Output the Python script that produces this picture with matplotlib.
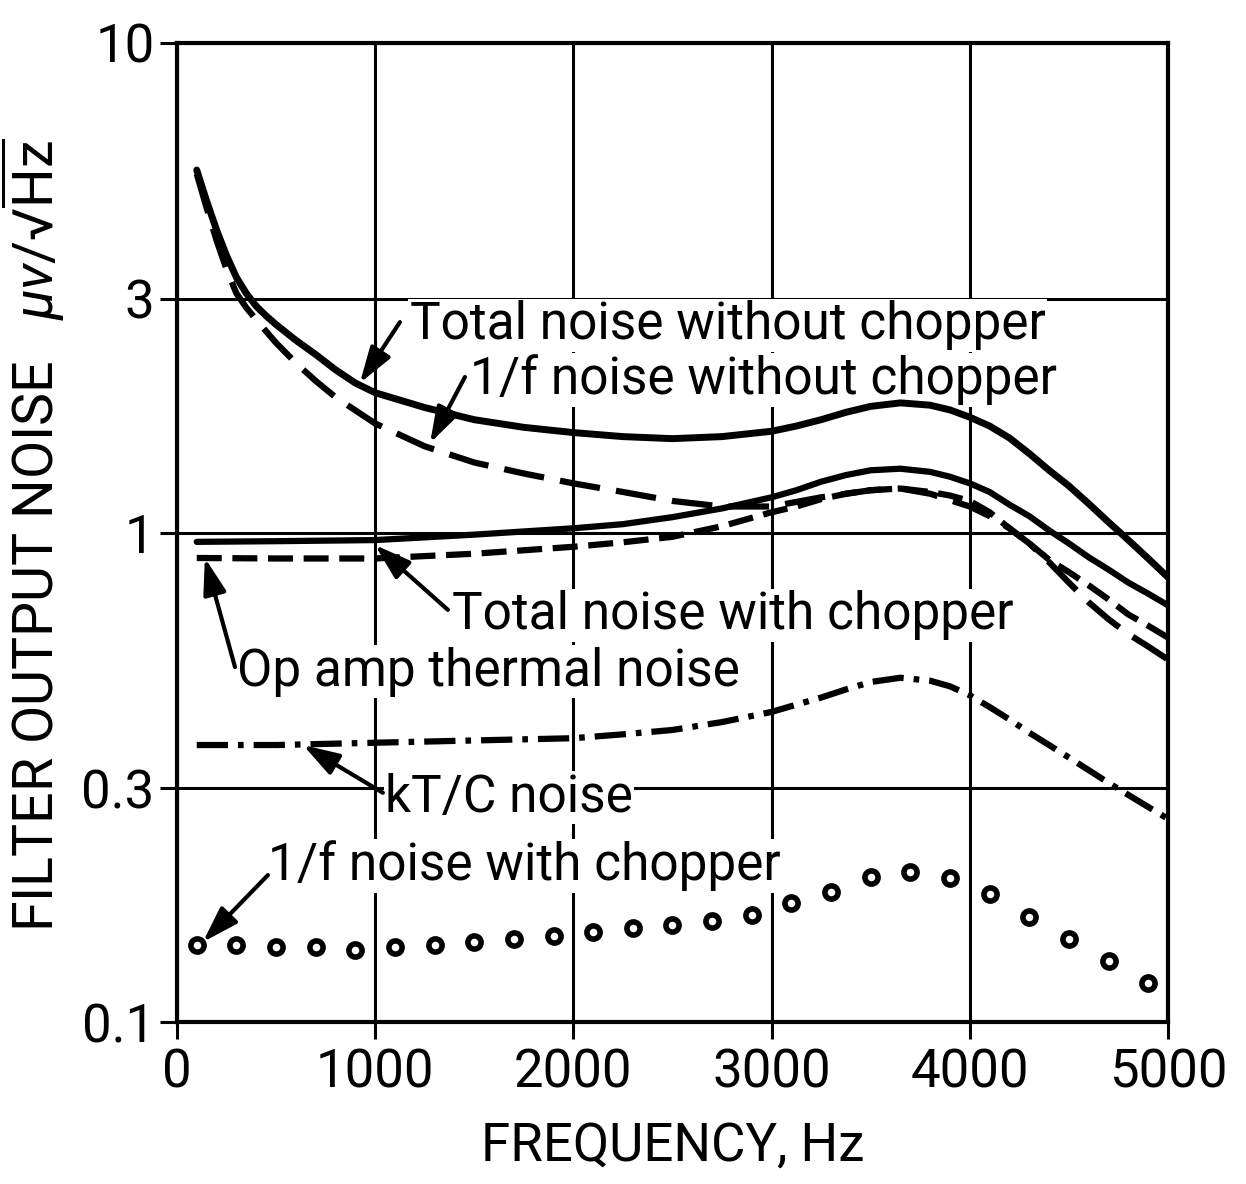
import matplotlib
matplotlib.use('Agg')
import matplotlib.pyplot as plt

plt.rcParams['font.family'] = ['Roboto', 'DejaVu Sans']
plt.rcParams['mathtext.fontset'] = 'custom'
plt.rcParams['mathtext.rm'] = 'Roboto'
plt.rcParams['mathtext.it'] = 'Roboto:italic'
plt.rcParams['mathtext.bf'] = 'Roboto:bold'

# --- data ---
freq_total_nc = [100, 150, 200, 250, 300, 350, 400, 450, 500, 600, 700, 800, 900, 1000, 1250, 1500,
                 1750, 2000, 2250, 2500, 2750, 3000, 3125, 3250, 3375, 3500, 3650, 3800, 3900,
                 4000, 4100, 4200, 4300, 4400, 4500, 4600, 4700, 4800, 4900, 5000]
total_no_chopper = [5.5, 4.75, 4.15, 3.68, 3.32, 3.08, 2.9, 2.77, 2.66, 2.47, 2.31, 2.15, 2.02, 1.93,
                    1.80, 1.70, 1.64, 1.60, 1.57, 1.555, 1.57, 1.61, 1.65, 1.70, 1.76, 1.81, 1.84,
                    1.82, 1.78, 1.72, 1.65, 1.56, 1.45, 1.34, 1.245, 1.145, 1.05, 0.965, 0.885, 0.81]

freq_flicker_nc = [100, 150, 200, 250, 300, 350, 400, 500, 600, 700, 800, 1000, 1250, 1500, 1750,
                   2000, 2250, 2500, 2750, 3000, 3250, 3500, 3650, 3800, 4000, 4100, 4200, 4300,
                   4400, 4500, 4600, 4700, 4800, 4900, 5000]
flicker_no_chopper = [5.4, 4.6, 3.95, 3.45, 3.08, 2.88, 2.72, 2.44, 2.22, 2.04, 1.89, 1.67, 1.50,
                      1.39, 1.32, 1.26, 1.21, 1.16, 1.13, 1.13, 1.18, 1.22, 1.23, 1.20, 1.13, 1.08,
                      1.02, 0.95, 0.87, 0.79, 0.72, 0.665, 0.62, 0.585, 0.55]

freq_mid = [100, 500, 1000, 1500, 2000, 2250, 2500, 2750, 3000, 3125, 3250, 3375, 3500, 3650,
            3800, 3900, 4000, 4100, 4200, 4300, 4400, 4500, 4600, 4700, 4800, 4900, 5000]
total_chopper = [0.957, 0.96, 0.965, 0.99, 1.02, 1.04, 1.075, 1.12, 1.18, 1.22, 1.27, 1.31, 1.34,
                 1.35, 1.33, 1.30, 1.26, 1.21, 1.14, 1.08, 1.01, 0.95, 0.89, 0.84, 0.79, 0.75, 0.71]
opamp_thermal = [0.887, 0.885, 0.885, 0.905, 0.935, 0.955, 0.98, 1.03, 1.10, 1.13, 1.17, 1.20, 1.22,
                 1.23, 1.21, 1.19, 1.16, 1.10, 1.02, 0.95, 0.88, 0.83, 0.78, 0.73, 0.68, 0.645, 0.61]
ktc_noise = [0.368, 0.368, 0.372, 0.376, 0.38, 0.387, 0.395, 0.41, 0.43, 0.445, 0.46, 0.478, 0.495,
             0.505, 0.498, 0.485, 0.465, 0.44, 0.415, 0.39, 0.368, 0.347, 0.327, 0.308, 0.291,
             0.275, 0.26]

freq_dots = [100, 300, 500, 700, 900, 1100, 1300, 1500, 1700, 1900, 2100, 2300, 2500,
             2700, 2900, 3100, 3300, 3500, 3700, 3900, 4100, 4300, 4500, 4700, 4900]
flicker_chopper = [0.1436, 0.1436, 0.1423, 0.1423, 0.1403, 0.1423, 0.1436, 0.1457, 0.1478, 0.1499,
                   0.153, 0.1556, 0.158, 0.161, 0.1654, 0.175, 0.184, 0.198, 0.2025, 0.197,
                   0.183, 0.164, 0.148, 0.133, 0.120]

x_ticks = [0, 1000, 2000, 3000, 4000, 5000]
y_ticks = [0.1, 0.3, 1, 3, 10]
y_ticklabels = ['0.1', '0.3', '1', '3', '10']

fig = plt.figure(figsize=(12.46, 11.84), dpi=100)
ax = fig.add_axes([0.142, 0.1368, 0.7954, 0.8269])
ax.set_yscale('log')
ax.set_xlim(0, 5000)
ax.set_ylim(0.1, 10)

# curves
ax.plot(freq_total_nc, total_no_chopper, color='k', lw=5, solid_capstyle='round', zorder=3)
ax.plot(freq_flicker_nc, flicker_no_chopper, color='k', lw=4.5, dashes=(6.5, 2.6), zorder=3)
ax.plot(freq_mid, total_chopper, color='k', lw=4.5, solid_capstyle='round', zorder=3)
ax.plot(freq_mid, opamp_thermal, color='k', lw=4.5, dashes=(4, 1.7), zorder=3)
ax.plot(freq_mid, ktc_noise, color='k', lw=4.5, dashes=(5, 1.6, 0.9, 1.6), zorder=3)
ax.plot(freq_dots, flicker_chopper, ls='none', marker='o', ms=9.5, mew=4,
        mfc='white', mec='k', zorder=4)

# axes styling
ax.set_xticks(x_ticks)
ax.set_xticklabels([str(t) for t in x_ticks])
ax.set_yticks(y_ticks)
ax.set_yticklabels(y_ticklabels)
ax.minorticks_off()
ax.tick_params(axis='both', direction='out', length=12, width=2.2, labelsize=38, pad=6)
ax.tick_params(axis='y', pad=4)
for s in ax.spines.values():
    s.set_linewidth(3)
ax.grid(True, color='k', lw=2.2)
ax.set_axisbelow(True)

ax.set_xlabel('FREQUENCY, Hz', fontsize=38, labelpad=16)
ax.set_ylabel('FILTER OUTPUT NOISE   $\\mu v/$\u221a$\\overline{\\mathrm{Hz}}$', fontsize=40)
ax.yaxis.set_label_coords(-0.111, 0.497)

# labels with arrows
tb = dict(facecolor='white', edgecolor='none', pad=1)
labels = [
    ('Total noise without chopper', 1176, 2.65),
    ('1/f noise without chopper', 1478, 2.05),
    ('Total noise with chopper', 1388, 0.678),
    ('Op amp thermal noise', 303, 0.519),
    ('kT/C noise', 1050, 0.287),
    ('1/f noise with chopper', 459, 0.2084),
]
for txt, x, y in labels:
    ax.text(x, y, txt, fontsize=37, ha='left', va='center', bbox=tb, zorder=2)

arrows = [
    ((923, 2.02), (1125, 2.69)),
    ((1277, 1.523), (1453, 2.078)),
    ((999, 0.943), (1367, 0.695)),
    ((141, 0.887), (293, 0.531)),
    ((636, 0.368), (1039, 0.294)),
    ((131, 0.1457), (459, 0.1996)),
]
for head, tail in arrows:
    ax.annotate('', xy=head, xytext=tail,
                arrowprops=dict(arrowstyle='-|>,head_length=1.0,head_width=0.32',
                                color='k', lw=3, shrinkA=0, shrinkB=0,
                                mutation_scale=22),
                zorder=5)

fig.savefig('out.png', dpi=100, facecolor='white')
